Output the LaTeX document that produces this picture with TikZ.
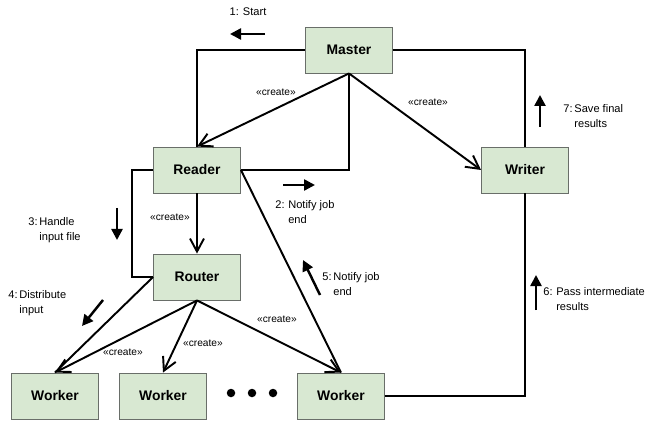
\documentclass[tikz,border=0pt]{standalone}
\usepackage{fontspec}
\setmainfont{Liberation Sans}
\usepackage{tikz}
\usetikzlibrary{arrows.meta, positioning}
\definecolor{boxgreen}{RGB}{216, 232, 210}
\definecolor{boxline}{RGB}{105, 110, 105}

\tikzset{
  actor/.style={draw=boxline, line width=0.5pt, fill=boxgreen, minimum width=1.74cm,
    minimum height=0.92cm, inner sep=0pt, font=\fontsize{7.9}{9}\selectfont\bfseries},
  link/.style={line width=1.1pt},
  msg/.style={link, -{Straight Barb[length=2.6mm, width=2.8mm, line width=1.1pt]}},
  flow/.style={line width=1.4pt, -{Triangle[length=2.2mm, width=2.2mm]}},
  tag/.style={font=\fontsize{5.8}{7}\selectfont, inner sep=1pt},
  note/.style={font=\fontsize{6.3}{8.4}\selectfont, anchor=west, inner sep=0pt, align=left}
}
\newcommand{\stepnote}[3]{\begin{tabular}{@{}l@{\,}l@{}}#1 & #2\\ & #3\end{tabular}}

\begin{document}
\begin{tikzpicture}
\useasboundingbox (0,0) rectangle (13,8.4);

% actors
\node[actor] (master) at (6.98,7.40) {Master};
\node[actor] (reader) at (3.94,5.00) {Reader};
\node[actor] (router) at (3.94,2.86) {Router};
\node[actor] (writer) at (10.50,5.00) {Writer};
\node[actor] (work1) at (1.10,0.48) {Worker};
\node[actor] (work2) at (3.26,0.48) {Worker};
\node[actor] (work3) at (6.82,0.48) {Worker};
\foreach \x in {4.62,5.04,5.46}
  \fill (\x,0.54) circle (0.085);

% creation arrows
\draw[msg] (master.south) -- (reader.north);
\draw[msg] (master.south) -- (writer.west);
\draw[msg] (reader.south) -- (router.north);
\draw[msg] (router.south) -- (work1.north);
\draw[msg] (router.south) -- (work2.north);
\draw[msg] (router.south) -- (work3.north);
\node[tag] (tagreader) at (5.52,6.56) {«create»};
\node[tag] (tagwriter) at (8.56,6.36) {«create»};
\node[tag] (tagrouter) at (3.40,4.06) {«create»};
\node[tag] (tagwork1) at (2.46,1.36) {«create»};
\node[tag] (tagwork2) at (4.06,1.54) {«create»};
\node[tag] (tagwork3) at (5.54,2.02) {«create»};

% message lines
\draw[link] (master.west) -| (reader.north);
\draw[link] (master.south) |- (reader.east);
\draw[link] (master.east) -| (writer.north);
\draw[link] (reader.west) -- ++(-0.42,0) |- (router.west);
\draw[link] (reader.east) -- (work3.north);
\draw[link] (router.west) -- (work1.north);
\draw[link] (work3.east) -| (writer.south);

% step 1
\draw[flow] (5.30,7.72) -- (4.60,7.72);
\node[note, anchor=center] (step1) at (4.96,8.16) {1: Start};
% step 2
\draw[flow] (5.66,4.70) -- (6.30,4.70);
\node[note] (step2) at (5.50,4.14) {\stepnote{2:}{\,Notify job}{\,end}};
% step 3
\draw[flow] (2.34,4.24) -- (2.34,3.60);
\node[note] (step3) at (0.56,3.80) {\stepnote{3:}{Handle}{input file}};
% step 4
\draw[flow] (2.06,2.40) -- (1.64,1.88);
\node[note] (step4) at (0.16,2.34) {\stepnote{4:}{Distribute}{input}};
% step 5
\draw[flow] (6.40,2.50) -- (6.06,3.20);
\node[note] (step5) at (6.44,2.70) {\stepnote{5:}{Notify job}{end}};
% step 6
\draw[flow] (10.72,2.20) -- (10.72,2.90);
\node[note] (step6) at (10.86,2.40) {\stepnote{6:}{\,Pass intermediate}{\,results}};
% step 7
\draw[flow] (10.80,5.86) -- (10.80,6.50);
\node[note] (step7) at (11.26,6.06) {\stepnote{7:}{Save final}{results}};
\end{tikzpicture}
\end{document}
